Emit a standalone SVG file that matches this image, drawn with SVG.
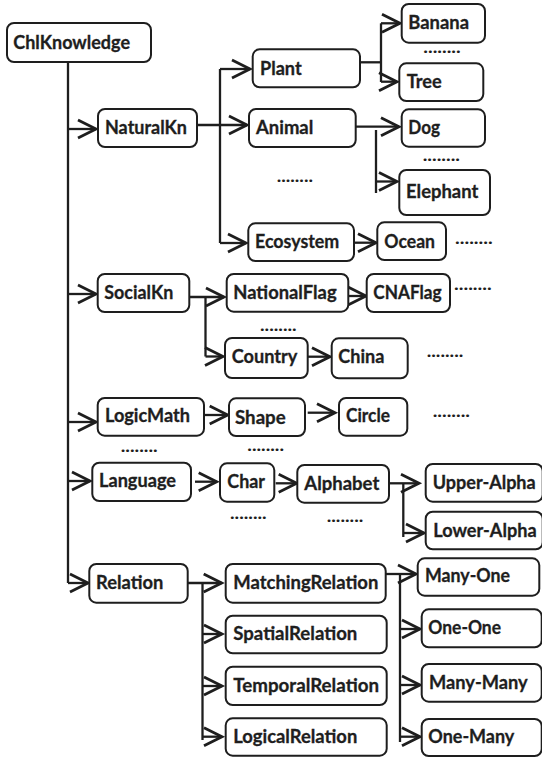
<svg xmlns="http://www.w3.org/2000/svg" width="542" height="757" viewBox="0 0 542 757">
  <defs>
    <marker id="chev" markerUnits="userSpaceOnUse" markerWidth="26" markerHeight="24" viewBox="-22 -12 26 24" refX="0" refY="0" orient="auto" overflow="visible">
      <path d="M-18,-9 L0,0 L-18,9" fill="none" stroke="#1e1e1e" stroke-width="2.8" stroke-linejoin="miter" stroke-linecap="butt"/>
    </marker>
    <style>
      .box { fill: #ffffff; stroke: #1e1e1e; stroke-width: 2; }
      .lbl { font-family: Lato, "Open Sans", "Liberation Sans", sans-serif; font-weight: bold; font-size: 18px; fill: #1e1e1e; stroke: #1e1e1e; stroke-width: 0.3; }
      .dots { font-family: Lato, "Liberation Sans", sans-serif; font-weight: bold; font-size: 17.5px; fill: #1e1e1e; }
      .ln { fill: none; stroke: #1e1e1e; stroke-width: 2.3; }
      .ar { fill: none; stroke: #1e1e1e; stroke-width: 2.3; marker-end: url(#chev); }
    </style>
  </defs>
  <rect width="542" height="757" fill="#ffffff"/>

  <!-- connectors -->
  <g id="connectors">
    <!-- main trunk -->
    <path class="ln" d="M68,62 V583"/>
    <path class="ar" d="M68,129 H96"/>
    <path class="ar" d="M68,294 H96"/>
    <path class="ar" d="M68,422 H96"/>
    <path class="ar" d="M68,481 H90"/>
    <path class="ar" d="M68,583 H88"/>
    <!-- NaturalKn -->
    <path class="ar" d="M197,125 H247"/>
    <path class="ln" d="M220,69 V243"/>
    <path class="ar" d="M220,69 H250"/>
    <path class="ar" d="M220,243 H246"/>
    <!-- Plant -->
    <path class="ln" d="M360,62.3 H381"/>
    <path class="ln" d="M381,23.3 V82"/>
    <path class="ar" d="M381,23.3 H400"/>
    <path class="ar" d="M381,81.7 H397"/>
    <!-- Animal -->
    <path class="ar" d="M355.7,126.7 H399"/>
    <path class="ln" d="M376,130 V193"/>
    <path class="ar" d="M376,181.5 H397"/>
    <!-- Ecosystem -->
    <path class="ar" d="M354,242.7 H376"/>
    <!-- SocialKn -->
    <path class="ar" d="M189.3,297 H224"/>
    <path class="ln" d="M205.5,297 V356.5"/>
    <path class="ar" d="M205.5,356.5 H223"/>
    <path class="ar" d="M348.3,296 H366"/>
    <path class="ar" d="M307.7,356.7 H330"/>
    <!-- LogicMath -->
    <path class="ar" d="M202,415 H227.7"/>
    <path class="ar" d="M307.7,412.7 H335"/>
    <!-- Language -->
    <path class="ar" d="M195,481.7 H216.7"/>
    <path class="ar" d="M275.7,483.3 H296.7"/>
    <path class="ar" d="M389,483.3 H419"/>
    <path class="ln" d="M403.3,483.3 V537"/>
    <path class="ar" d="M403.3,533 H424"/>
    <!-- Relation -->
    <path class="ar" d="M187.7,583 H221.7"/>
    <path class="ln" d="M202.5,583 V740"/>
    <path class="ar" d="M202.5,634 H222"/>
    <path class="ar" d="M202.5,686 H222"/>
    <path class="ar" d="M202.5,736.7 H222"/>
    <!-- MatchingRelation -->
    <path class="ar" d="M385.7,574 H416"/>
    <path class="ln" d="M400,574 V742"/>
    <path class="ar" d="M400,629 H420"/>
    <path class="ar" d="M400,685 H420"/>
    <path class="ar" d="M400,736.7 H420"/>
  </g>

  <!-- nodes -->
  <g id="ChlKnowledge"><rect class="box" x="7" y="23" width="144" height="39" rx="7"/><text class="lbl" x="13.3" y="48.5" textLength="116.7" lengthAdjust="spacingAndGlyphs">ChlKnowledge</text></g>
  <g id="NaturalKn"><rect class="box" x="98" y="109" width="99" height="38" rx="7"/><text class="lbl" x="105" y="133.5" textLength="82" lengthAdjust="spacingAndGlyphs">NaturalKn</text></g>
  <g id="Plant"><rect class="box" x="252.7" y="49.3" width="107.3" height="38" rx="7"/><text class="lbl" x="260" y="74.8" textLength="41.7" lengthAdjust="spacingAndGlyphs">Plant</text></g>
  <g id="Animal"><rect class="box" x="249" y="109" width="106.7" height="38" rx="7"/><text class="lbl" x="256" y="134" textLength="57.3" lengthAdjust="spacingAndGlyphs">Animal</text></g>
  <g id="Ecosystem"><rect class="box" x="248.3" y="223.3" width="105.7" height="37.7" rx="7"/><text class="lbl" x="255" y="248.3" textLength="84.3" lengthAdjust="spacingAndGlyphs">Ecosystem</text></g>
  <g id="Banana"><rect class="box" x="401.7" y="4" width="83.3" height="38.7" rx="7"/><text class="lbl" x="408.3" y="29.3" textLength="60.7" lengthAdjust="spacingAndGlyphs">Banana</text></g>
  <g id="Tree"><rect class="box" x="399.3" y="63.3" width="84" height="37.7" rx="7"/><text class="lbl" x="406.7" y="88.3" textLength="35" lengthAdjust="spacingAndGlyphs">Tree</text></g>
  <g id="Dog"><rect class="box" x="401.7" y="109.3" width="83.3" height="37.4" rx="7"/><text class="lbl" x="408.3" y="133.5" textLength="31.7" lengthAdjust="spacingAndGlyphs">Dog</text></g>
  <g id="Elephant"><rect class="box" x="399.3" y="170" width="90.7" height="45" rx="7"/><text class="lbl" x="406" y="197.5" textLength="72.3" lengthAdjust="spacingAndGlyphs">Elephant</text></g>
  <g id="Ocean"><rect class="box" x="377.3" y="222.3" width="68.7" height="37.7" rx="7"/><text class="lbl" x="384.3" y="247.7" textLength="50.7" lengthAdjust="spacingAndGlyphs">Ocean</text></g>
  <g id="SocialKn"><rect class="box" x="97.7" y="274" width="91.6" height="38" rx="7"/><text class="lbl" x="104.3" y="299" textLength="69" lengthAdjust="spacingAndGlyphs">SocialKn</text></g>
  <g id="NationalFlag"><rect class="box" x="226.7" y="274" width="121.6" height="37.7" rx="7"/><text class="lbl" x="233.3" y="299.3" textLength="103.3" lengthAdjust="spacingAndGlyphs">NationalFlag</text></g>
  <g id="CNAFlag"><rect class="box" x="366.7" y="274" width="83.3" height="38" rx="7"/><text class="lbl" x="373.3" y="298.5" textLength="68.3" lengthAdjust="spacingAndGlyphs">CNAFlag</text></g>
  <g id="Country"><rect class="box" x="225" y="338" width="82.7" height="40" rx="7"/><text class="lbl" x="231.7" y="363.3" textLength="65.7" lengthAdjust="spacingAndGlyphs">Country</text></g>
  <g id="China"><rect class="box" x="331.7" y="338.3" width="76" height="40" rx="7"/><text class="lbl" x="338.3" y="363.3" textLength="46" lengthAdjust="spacingAndGlyphs">China</text></g>
  <g id="LogicMath"><rect class="box" x="97.7" y="398" width="106.3" height="37.7" rx="7"/><text class="lbl" x="105" y="422.3" textLength="85" lengthAdjust="spacingAndGlyphs">LogicMath</text></g>
  <g id="Shape"><rect class="box" x="229" y="398.3" width="76" height="37.7" rx="7"/><text class="lbl" x="235" y="424" textLength="50.7" lengthAdjust="spacingAndGlyphs">Shape</text></g>
  <g id="Circle"><rect class="box" x="339" y="398" width="68.3" height="37.7" rx="7"/><text class="lbl" x="346" y="422.3" textLength="44" lengthAdjust="spacingAndGlyphs">Circle</text></g>
  <g id="Language"><rect class="box" x="92.3" y="462.7" width="98.7" height="38.3" rx="7"/><text class="lbl" x="99" y="487.3" textLength="77" lengthAdjust="spacingAndGlyphs">Language</text></g>
  <g id="Char"><rect class="box" x="220" y="463.3" width="54.3" height="38.4" rx="7"/><text class="lbl" x="227.3" y="488.3" textLength="37.7" lengthAdjust="spacingAndGlyphs">Char</text></g>
  <g id="Alphabet"><rect class="box" x="297.3" y="465" width="91.7" height="37.7" rx="7"/><text class="lbl" x="304.3" y="490" textLength="75" lengthAdjust="spacingAndGlyphs">Alphabet</text></g>
  <g id="Upper-Alpha"><rect class="box" x="425.7" y="464" width="117" height="37.7" rx="7"/><text class="lbl" x="432.7" y="489.3" textLength="103" lengthAdjust="spacingAndGlyphs">Upper-Alpha</text></g>
  <g id="Lower-Alpha"><rect class="box" x="425.7" y="511.7" width="117" height="37.6" rx="7"/><text class="lbl" x="433.3" y="536.7" textLength="103.3" lengthAdjust="spacingAndGlyphs">Lower-Alpha</text></g>
  <g id="Relation"><rect class="box" x="89.3" y="564" width="98.4" height="38.7" rx="7"/><text class="lbl" x="96" y="589" textLength="67.3" lengthAdjust="spacingAndGlyphs">Relation</text></g>
  <g id="MatchingRelation"><rect class="box" x="225.7" y="564" width="160" height="38.7" rx="7"/><text class="lbl" x="233.3" y="589.3" textLength="145" lengthAdjust="spacingAndGlyphs">MatchingRelation</text></g>
  <g id="SpatialRelation"><rect class="box" x="225.7" y="615.7" width="161" height="37.6" rx="7"/><text class="lbl" x="233.3" y="640" textLength="124" lengthAdjust="spacingAndGlyphs">SpatialRelation</text></g>
  <g id="TemporalRelation"><rect class="box" x="225.7" y="666.7" width="161" height="38.3" rx="7"/><text class="lbl" x="233.3" y="691.7" textLength="145.7" lengthAdjust="spacingAndGlyphs">TemporalRelation</text></g>
  <g id="LogicalRelation"><rect class="box" x="225.7" y="718.3" width="161" height="37.4" rx="7"/><text class="lbl" x="233.3" y="742.7" textLength="124" lengthAdjust="spacingAndGlyphs">LogicalRelation</text></g>
  <g id="Many-One"><rect class="box" x="417.7" y="558.3" width="121.6" height="37.4" rx="7"/><text class="lbl" x="425" y="582.3" textLength="85" lengthAdjust="spacingAndGlyphs">Many-One</text></g>
  <g id="One-One"><rect class="box" x="421.7" y="609.3" width="120" height="38" rx="7"/><text class="lbl" x="428.3" y="634" textLength="72.7" lengthAdjust="spacingAndGlyphs">One-One</text></g>
  <g id="Many-Many"><rect class="box" x="421.7" y="664" width="120" height="37.7" rx="7"/><text class="lbl" x="429" y="689" textLength="98.7" lengthAdjust="spacingAndGlyphs">Many-Many</text></g>
  <g id="One-Many"><rect class="box" x="421.7" y="719" width="120" height="37" rx="7"/><text class="lbl" x="428.3" y="742.7" textLength="86" lengthAdjust="spacingAndGlyphs">One-Many</text></g>

  <!-- ellipsis marks -->
  <g id="ellipses">
    <text class="dots" x="423.3" y="53.2" textLength="37.4" lengthAdjust="spacingAndGlyphs">........</text>
    <text class="dots" x="276.7" y="182.2" textLength="36.3" lengthAdjust="spacingAndGlyphs">........</text>
    <text class="dots" x="422.7" y="160.8" textLength="37.3" lengthAdjust="spacingAndGlyphs">........</text>
    <text class="dots" x="455" y="244.2" textLength="37.7" lengthAdjust="spacingAndGlyphs">........</text>
    <text class="dots" x="454" y="290.2" textLength="37.7" lengthAdjust="spacingAndGlyphs">........</text>
    <text class="dots" x="260" y="330.8" textLength="36.7" lengthAdjust="spacingAndGlyphs">........</text>
    <text class="dots" x="426.7" y="356.5" textLength="36.6" lengthAdjust="spacingAndGlyphs">........</text>
    <text class="dots" x="432.7" y="417.2" textLength="37.3" lengthAdjust="spacingAndGlyphs">........</text>
    <text class="dots" x="120.7" y="452.2" textLength="37" lengthAdjust="spacingAndGlyphs">........</text>
    <text class="dots" x="247.3" y="450.8" textLength="36.7" lengthAdjust="spacingAndGlyphs">........</text>
    <text class="dots" x="230" y="518.8" textLength="36.7" lengthAdjust="spacingAndGlyphs">........</text>
    <text class="dots" x="326.7" y="521.5" textLength="36.6" lengthAdjust="spacingAndGlyphs">........</text>
  </g>
</svg>
